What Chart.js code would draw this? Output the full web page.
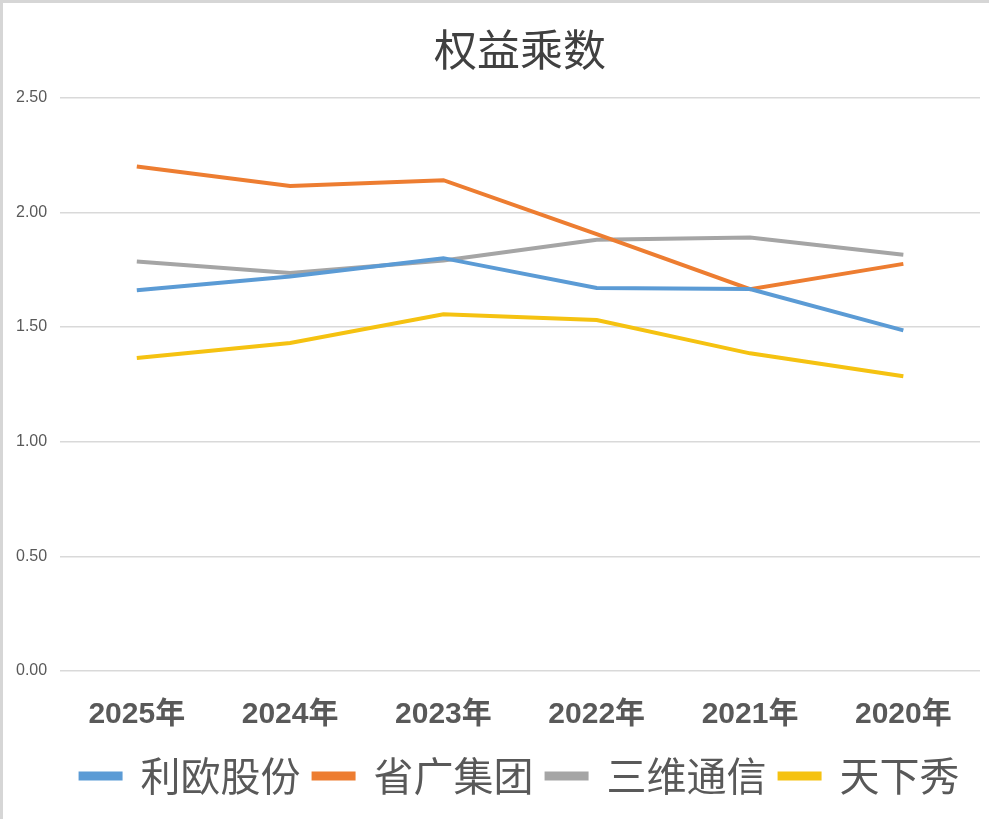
<!DOCTYPE html>
<html>
<head>
<meta charset="utf-8">
<script src="https://cdn.jsdelivr.net/npm/chart.js@4"></script>
<style>
  html, body { margin: 0; padding: 0; background: #fff; }
  #wrap { position: relative; width: 989px; height: 819px; box-sizing: border-box;
          border-left: 3px solid #d6d6d6; border-top: 3px solid #d6d6d6; }
  canvas { display: block; }
</style>
</head>
<body>
<div id="wrap"><canvas id="c" width="986" height="816"></canvas></div>
<script>
const categories = ["2025年", "2024年", "2023年", "2022年", "2021年", "2020年"];
const liou = [1.66, 1.72, 1.80, 1.67, 1.665, 1.485];
const shengguang = [2.20, 2.115, 2.14, 1.905, 1.665, 1.775];
const sanwei = [1.785, 1.735, 1.79, 1.88, 1.89, 1.815];
const tianxiaxiu = [1.365, 1.43, 1.555, 1.53, 1.385, 1.285];
const seriesNames = ["利欧股份", "省广集团", "三维通信", "天下秀"];
const yTicks = [0, 0.5, 1.0, 1.5, 2.0, 2.5];

const colors = ["#5B9BD5", "#ED7D31", "#A5A5A5", "#F5C211"];
const dataArrays = [liou, shengguang, sanwei, tianxiaxiu];
const cjk = '"Noto Sans CJK SC", "Noto Sans", sans-serif';

new Chart(document.getElementById('c'), {
  type: 'line',
  data: {
    labels: categories,
    datasets: dataArrays.map((d, i) => ({
      label: seriesNames[i],
      data: d,
      borderColor: colors[i],
      backgroundColor: colors[i],
      borderWidth: 4,
      pointRadius: 0,
      tension: 0,
      fill: false
    }))
  },
  options: {
    responsive: false,
    animation: false,
    layout: { padding: { left: 0, right: 9, top: 0, bottom: 13 } },
    plugins: {
      title: {
        display: true,
        fullSize: false,
        text: '权益乘数',
        color: '#404040',
        font: { family: cjk, size: 43, weight: 'normal' },
        padding: { top: 21, bottom: 22 }
      },
      legend: {
        position: 'bottom',
        fullSize: false,
        labels: {
          color: '#595959',
          font: { family: cjk, size: 40 },
          boxWidth: 40,
          boxHeight: 5,
          padding: 13
        }
      },
      tooltip: { enabled: false }
    },
    scales: {
      x: {
        offset: true,
        grid: { display: false, drawTicks: false },
        border: { display: false },
        afterFit: (scale) => { scale.height = 72; },
        ticks: {
          color: '#595959',
          font: { family: '"Liberation Sans", "Noto Sans CJK SC", sans-serif', size: 30, weight: 'bold' },
          padding: 26
        }
      },
      y: {
        min: 0,
        max: 2.5,
        afterBuildTicks: (scale) => { scale.ticks = yTicks.map(v => ({ value: v })); },
        grid: { color: '#d9d9d9', lineWidth: 1.5, drawTicks: false },
        border: { display: false },
        ticks: {
          color: '#595959',
          font: { family: '"Liberation Sans", sans-serif', size: 16 },
          padding: 13,
          callback: (v) => Number(v).toFixed(2)
        }
      }
    }
  }
});
</script>
</body>
</html>
